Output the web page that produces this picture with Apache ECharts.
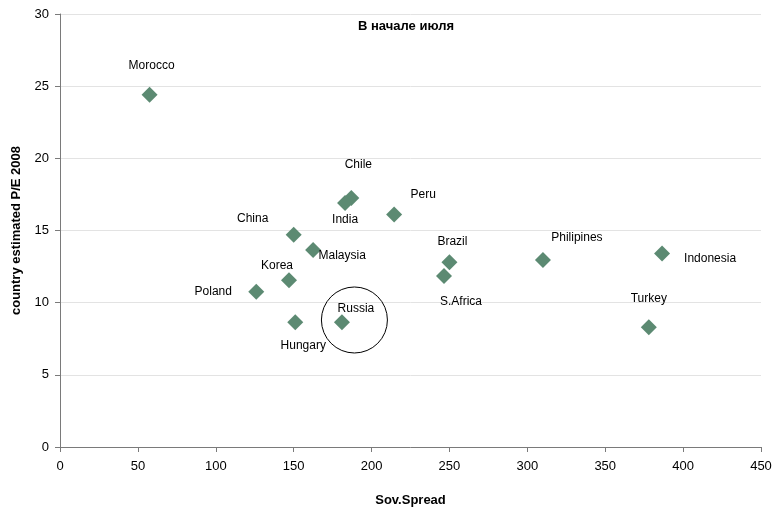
<!DOCTYPE html>
<html><head><meta charset="utf-8">
<script src="https://cdn.jsdelivr.net/npm/echarts@6/dist/echarts.min.js"></script>
<style>html,body{margin:0;padding:0;background:#fff}#c{width:780px;height:512px}</style>
</head><body><div id="c"></div>
<script>
const countries = ['Morocco','Chile','India','Peru','China','Malaysia','Korea','Poland','Hungary','Russia','Brazil','S.Africa','Philipines','Indonesia','Turkey'];
const sovSpread = [57.5, 187, 183, 214.5, 150, 162.5, 147, 126, 151, 181, 250, 246.5, 310, 386.5, 378];
const peRatio  = [24.4, 17.25, 16.9, 16.1, 14.7, 13.65, 11.55, 10.75, 8.65, 8.65, 12.8, 11.85, 12.95, 13.4, 8.3];
const highlight = [189, 8.8];
const xTicks = [0,50,100,150,200,250,300,350,400,450];
const yTicks = [0,5,10,15,20,25,30];

// label placement (style only), pixel offsets from marker centre
const labelOffsets = {
  'Morocco':[2,-29],'Chile':[7,-33],'India':[0,17],'Peru':[29,-20],'China':[-41,-16],
  'Malaysia':[29,6],'Korea':[-12,-15],'Poland':[-43,0],'Hungary':[8,24],'Russia':[14,-13],
  'Brazil':[3,-21],'S.Africa':[17,26],'Philipines':[34,-22],'Indonesia':[48,5],'Turkey':[0,-29]
};

const pts = countries.map((n,i)=>({
  name:n, value:[sovSpread[i], peRatio[i]],
  label:{offset:labelOffsets[n]}
}));

const font = '"Liberation Sans", Arial, sans-serif';
const chart = echarts.init(document.getElementById('c'), null, {renderer:'canvas'});
chart.setOption({
  animation:false,
  title:{text:'В начале июля', left:401, top:15, textAlign:'center',
    textStyle:{fontFamily:font, fontSize:13, fontWeight:'bold', color:'#000'}},
  grid:{left:60, right:19, top:14, bottom:65},
  xAxis:{type:'value', min:xTicks[0], max:xTicks[xTicks.length-1], interval:50,
    name:'Sov.Spread', nameLocation:'middle', nameGap:47,
    nameTextStyle:{fontFamily:font, fontSize:13, fontWeight:'bold', color:'#000'},
    axisLine:{show:true, lineStyle:{color:'#7a7a7a', width:1}},
    axisTick:{show:true, length:5, inside:false, lineStyle:{color:'#7a7a7a'}},
    axisLabel:{fontFamily:font, fontSize:13, color:'#000', margin:13},
    splitLine:{show:false}},
  yAxis:{type:'value', min:yTicks[0], max:yTicks[yTicks.length-1], interval:5,
    name:'country estimated P/E 2008', nameLocation:'middle', nameGap:37, nameRotate:90,
    nameTextStyle:{fontFamily:font, fontSize:13, fontWeight:'bold', color:'#000'},
    axisLine:{show:true, lineStyle:{color:'#7a7a7a', width:1}},
    axisTick:{show:true, length:5, lineStyle:{color:'#7a7a7a'}},
    axisLabel:{fontFamily:font, fontSize:13, color:'#000', margin:11},
    splitLine:{show:true, lineStyle:{color:'#e3e3e3', width:1}}},
  series:[
    {type:'scatter', symbol:'diamond', symbolSize:16, z:3,
     itemStyle:{color:'#5c8a72', opacity:1},
     label:{show:true, position:'inside', formatter:'{b}', fontFamily:font, fontSize:12,
       color:'#000', opacity:1, align:'center', verticalAlign:'middle'},
     data:pts},
    {type:'scatter', symbol:'circle', symbolSize:66, z:2, silent:true,
     itemStyle:{color:'rgba(0,0,0,0)', borderColor:'#000', borderWidth:1, opacity:1},
     data:[highlight]}
  ]
});
</script></body></html>
